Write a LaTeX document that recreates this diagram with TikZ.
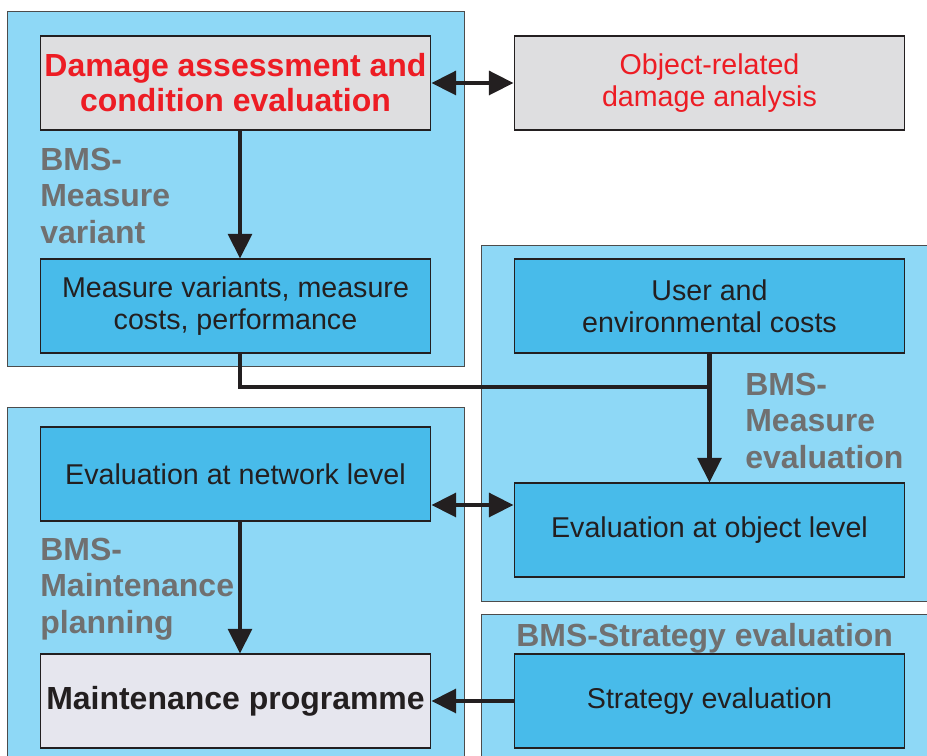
\documentclass[tikz,border=0pt]{standalone}
\usepackage{fontspec}
\setmainfont{Liberation Sans}
\usepackage{xcolor}
\usepackage{tikz}
\usetikzlibrary{arrows.meta,positioning}

\definecolor{panelblue}{HTML}{8ED8F6}
\definecolor{boxblue}{HTML}{48BBEA}
\definecolor{stonegray}{HTML}{DEDEE0}
\definecolor{progray}{HTML}{E6E6EE}
\definecolor{dmgred}{HTML}{ED1C24}
\definecolor{labelgray}{HTML}{707070}
\definecolor{inkblack}{HTML}{231F20}

\begin{document}
\begin{tikzpicture}[
  x=0.02cm, y=-0.02cm,
  every node/.style={font=\fontsize{16.3}{18.2}\selectfont, text=inkblack},
  panel/.style={draw=black!70, line width=0.5pt, fill=panelblue},
  taskbox/.style={draw=inkblack, line width=0.6pt, fill=boxblue, align=center,
    minimum width=7.82cm, minimum height=1.88cm, inner sep=0pt},
  stonebox/.style={taskbox, fill=stonegray},
  progbox/.style={taskbox, fill=progray},
  bmslabel/.style={anchor=north west, align=left, inner sep=0pt, text=labelgray,
    font=\fontsize{18.2}{20.6}\selectfont\bfseries},
  link/.style={draw=inkblack, line width=2.3pt},
  arr/.style={link, -{Triangle[length=14pt,width=13.5pt]}},
  biarr/.style={link, {Triangle[length=14pt,width=13.5pt]}-{Triangle[length=14pt,width=13.5pt]}}
]
  \useasboundingbox (0,0) rectangle (927,756);
  \clip (0,0) rectangle (927,756);

  % panels
  \draw[panel] (7,11) rectangle (464,366);
  \draw[panel] (481,245) rectangle (940,601);
  \draw[panel] (7,407) rectangle (464,770);
  \draw[panel] (481,614) rectangle (940,770);

  % boxes
  \node[stonebox, font=\fontsize{18.2}{20}\selectfont\bfseries, text=dmgred] (damage) at (235.5,83)
    {Damage assessment and\\condition evaluation};
  \node[stonebox, text=dmgred] (object) at (709.5,83) {Object-related\\damage analysis};
  \node[taskbox] (variants) at (235.5,306) {Measure variants, measure\\costs, performance};
  \node[taskbox] (usercost) at (709.5,306) {User and\\environmental costs};
  \node[taskbox] (network) at (235.5,474) {Evaluation at network level};
  \node[taskbox] (objlevel) at (709.5,530) {Evaluation at object level};
  \node[progbox, font=\fontsize{18.2}{20}\selectfont\bfseries] (maint) at (235.5,701) {Maintenance programme};
  \node[taskbox] (strategy) at (709.5,701) {Strategy evaluation};

  % panel labels
  \node[bmslabel] (lblvariant) at (40,148) {BMS-\\Measure\\variant};
  \node[bmslabel] (lbleval) at (745,373) {BMS-\\Measure\\evaluation};
  \node[bmslabel] (lblplan) at (40,538) {BMS-\\Maintenance\\planning};
  \node[bmslabel] (lblstrat) at (516,623) {BMS-Strategy evaluation};

  % connectors
  \coordinate (junc) at (709.5,387);
  \coordinate (midlink) at (472,505);
  \draw[biarr] (damage) -- (object);
  \draw[arr] ([xshift=0.09cm]damage.south) -- ([xshift=0.09cm]variants.north);
  \draw[link] ([xshift=0.09cm]variants.south) |- (junc);
  \draw[arr] (usercost.south) -- (objlevel.north);
  \draw[biarr] (network.east |- midlink) -- (objlevel.west |- midlink);
  \draw[arr] ([xshift=0.09cm]network.south) -- ([xshift=0.09cm]maint.north);
  \draw[arr] (strategy) -- (maint);
\end{tikzpicture}
\end{document}
